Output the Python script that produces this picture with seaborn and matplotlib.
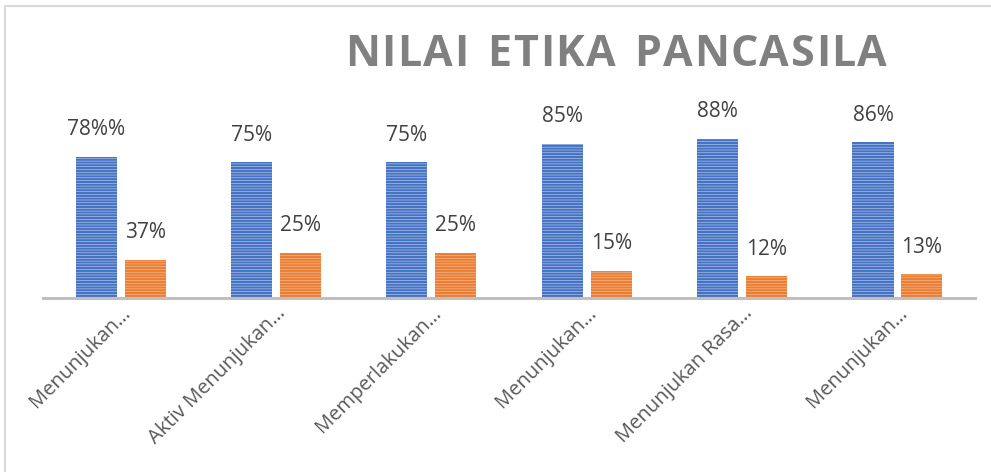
import matplotlib
matplotlib.use("Agg")
import matplotlib.pyplot as plt
import pandas as pd
import seaborn as sns
from matplotlib.patches import Rectangle
from matplotlib.transforms import ScaledTranslation

# --- Data ---
categories = [
    "Menunjukan…",
    "Aktiv Menunjukan…",
    "Memperlakukan…",
    "Menunjukan…",
    "Menunjukan Rasa…",
    "Menunjukan…",
]
series_names = ["Seri 1", "Seri 2"]
blue_values = [78, 75, 75, 85, 88, 86]
orange_values = [21, 25, 25, 15, 12, 13]
blue_labels = ["78%%", "75%", "75%", "85%", "88%", "86%"]
orange_labels = ["37%", "25%", "25%", "15%", "12%", "13%"]
title = "NILAI ETIKA PANCASILA"

df = pd.DataFrame({
    "pos": list(range(len(categories))) * 2,
    "value": blue_values + orange_values,
    "series": [series_names[0]] * len(categories)
    + [series_names[1]] * len(categories),
})

sns.set_style("white")
plt.rcParams["font.family"] = ["Open Sans", "DejaVu Sans"]
plt.rcParams["hatch.linewidth"] = 1.6

fig = plt.figure(figsize=(9.91, 4.72), dpi=100)
ax = fig.add_axes([0.0434, 0.3686, 0.9406, 0.3835])

sns.barplot(
    data=df, x="pos", y="value", hue="series", hue_order=series_names,
    palette=["#c5d4ee", "#f8c8a6"], width=0.63, gap=0.16,
    ax=ax, legend=False,
)

hatch_colors = ["#4472c4", "#ed7d31"]
for container, hc, labels in zip(
        ax.containers, hatch_colors, [blue_labels, orange_labels]):
    for bar in container:
        bar.set_hatch("------")
        bar.set_edgecolor(hc)
        bar.set_linewidth(0)
    ax.bar_label(container, labels=labels, padding=12, fontsize=15,
                 color="#404040")

ax.set_ylim(0, 100)
ax.set_xlim(-0.5, len(categories) - 0.5)
ax.set_xlabel("")
ax.set_ylabel("")
ax.set_yticks([])
ax.set_xticks(range(len(categories)))
ax.set_xticklabels(categories, rotation=45, ha="right",
                   rotation_mode="anchor", fontsize=14.5, color="#595959")
offset = ScaledTranslation(0.17, -0.24, fig.dpi_scale_trans)
for lab in ax.get_xticklabels():
    lab.set_transform(lab.get_transform() + offset)
ax.tick_params(axis="x", length=0)
for side in ["top", "right", "left"]:
    ax.spines[side].set_visible(False)
ax.spines["bottom"].set_color("#bfbfbf")
ax.spines["bottom"].set_linewidth(2.2)

# --- Title with wide letter spacing ---
renderer = fig.canvas.get_renderer()
title_left, title_right, title_y = 345, 887, 1 - 55 / 472
space_w = 16
chars = []
for ch in title:
    t = fig.text(0, title_y, ch, ha="left", va="center", fontsize=31,
                 fontweight="bold", color="#808080")
    w = t.get_window_extent(renderer).width if ch != " " else space_w
    chars.append((t, w))
plain_w = sum(w for _, w in chars)
extra = (title_right - title_left - plain_w) / (len(chars) - 1)
x = title_left
for t, w in chars:
    t.set_x(x / fig.bbox.width)
    x += w + extra

# chart border
fig.patches.append(Rectangle((0.005, -0.1), 1.1, 1.087, transform=fig.transFigure,
                             fill=False, edgecolor="#d9d9d9", linewidth=1.5))

fig.savefig("out.png", dpi=100)
